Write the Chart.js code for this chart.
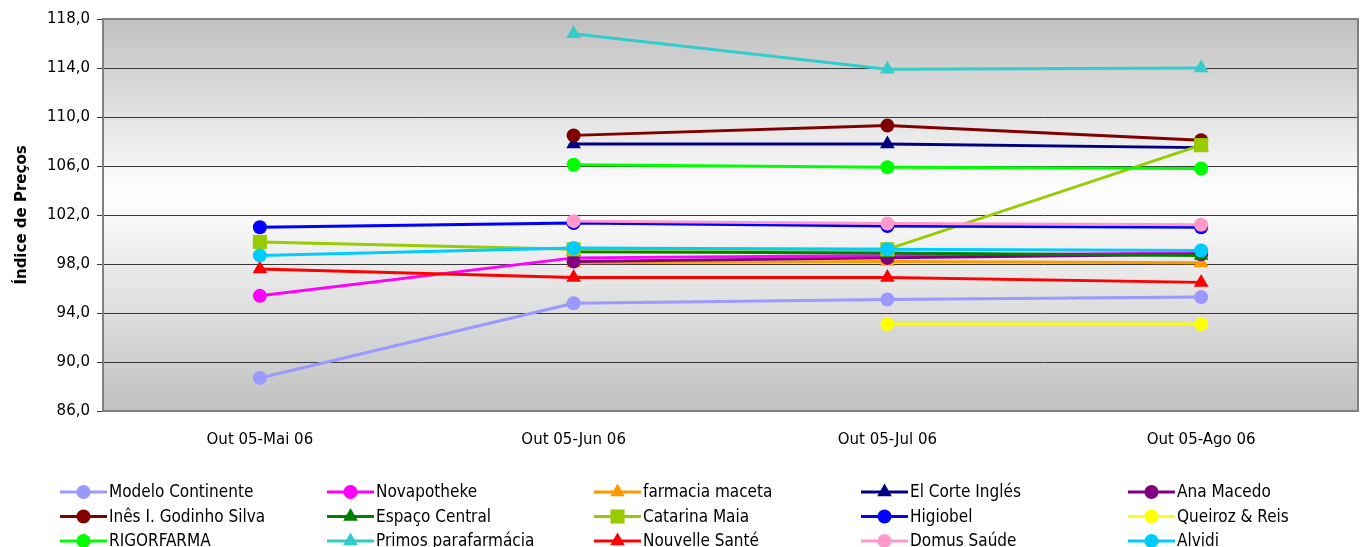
<!DOCTYPE html>
<html>
<head>
<meta charset="utf-8">
<script src="https://cdn.jsdelivr.net/npm/chart.js@4.4.1/dist/chart.umd.min.js"></script>
<style>
  html, body { margin: 0; padding: 0; background: #ffffff; overflow: hidden; }
  #wrap { width: 1363px; height: 547px; position: relative; overflow: hidden; }
  #c { display: block; }
</style>
</head>
<body>
<div id="wrap"><canvas id="c" width="1368" height="547"></canvas></div>
<script>
// ---- data ----
const categories = ['Out 05-Mai 06', 'Out 05-Jun 06', 'Out 05-Jul 06', 'Out 05-Ago 06'];
const seriesNames = ['Modelo Continente', 'Novapotheke', 'farmacia maceta', 'El Corte Inglés', 'Ana Macedo',
  'Inês I. Godinho Silva', 'Espaço Central', 'Catarina Maia', 'Higiobel', 'Queiroz & Reis',
  'RIGORFARMA', 'Primos parafarmácia', 'Nouvelle Santé', 'Domus Saúde', 'Alvidi'];
const modeloContinente   = [88.7, 94.8, 95.1, 95.3];
const novapotheke        = [95.4, 98.5, 98.7, 98.9];
const farmaciaMaceta     = [null, 98.1, 98.2, 98.1];
const elCorteIngles      = [null, 107.8, 107.8, 107.5];
const anaMacedo          = [null, 98.2, 98.5, 98.8];
const inesGodinhoSilva   = [null, 108.5, 109.3, 108.1];
const espacoCentral      = [null, 99.0, 98.9, 98.7];
const catarinaMaia       = [99.8, 99.2, 99.2, 107.7];
const higiobel           = [101.0, 101.35, 101.1, 101.0];
const queirozReis        = [null, null, 93.1, 93.1];
const rigorfarma         = [null, 106.1, 105.9, 105.8];
const primosParafarmacia = [null, 116.8, 113.9, 114.0];
const nouvelleSante      = [97.6, 96.9, 96.9, 96.5];
const domusSaude         = [null, 101.5, 101.3, 101.2];
const alvidi             = [98.7, 99.3, 99.2, 99.1];
const yMin = 86, yMax = 118, yStep = 4;

// ---- styles ----
const seriesValues = [modeloContinente, novapotheke, farmaciaMaceta, elCorteIngles, anaMacedo,
  inesGodinhoSilva, espacoCentral, catarinaMaia, higiobel, queirozReis,
  rigorfarma, primosParafarmacia, nouvelleSante, domusSaude, alvidi];
const colors = ['#9999FF', '#FF00FF', '#FF9900', '#000080', '#800080',
  '#800000', '#008000', '#99CC00', '#0000FF', '#FFFF00',
  '#00FF00', '#33CCCC', '#FF0000', '#FF99CC', '#00CCFF'];
const styles = ['circle', 'circle', 'triangle', 'triangle', 'circle',
  'circle', 'triangle', 'rect', 'circle', 'circle',
  'circle', 'triangle', 'triangle', 'circle', 'circle'];
const radiusFor = s => s === 'circle' ? 7 : (s === 'triangle' ? 8.5 : 10);

const datasets = seriesNames.map((name, i) => ({
  label: name,
  data: seriesValues[i],
  borderColor: colors[i],
  backgroundColor: colors[i],
  pointBackgroundColor: colors[i],
  pointBorderColor: colors[i],
  pointBorderWidth: 0,
  pointStyle: styles[i],
  pointRadius: radiusFor(styles[i]),
  pointHoverRadius: radiusFor(styles[i]),
  borderWidth: 3,
  tension: 0,
  spanGaps: false,
  fill: false,
  order: seriesNames.length - i
}));

const bgPlugin = {
  id: 'plotBg',
  beforeDraw(chart) {
    const { ctx, chartArea: a } = chart;
    const g = ctx.createLinearGradient(0, a.top, 0, a.bottom);
    g.addColorStop(0, '#C0C0C0');
    g.addColorStop(0.45, '#FFFFFF');
    g.addColorStop(1, '#C0C0C0');
    ctx.save();
    ctx.fillStyle = g;
    ctx.fillRect(a.left, a.top, a.right - a.left, a.bottom - a.top);
    ctx.restore();
  },
  afterDatasetsDraw(chart) {
    const { ctx, chartArea: a } = chart;
    ctx.save();
    ctx.strokeStyle = '#808080';
    ctx.lineWidth = 2;
    ctx.strokeRect(a.left, a.top, a.right - a.left, a.bottom - a.top);
    ctx.restore();
  }
};

const legendPlugin = {
  id: 'gridLegend',
  afterDraw(chart) {
    const ctx = chart.ctx;
    ctx.save();
    chart.data.datasets.forEach((ds, i) => {
      const col = i % 5, row = Math.floor(i / 5);
      const x0 = 60 + col * 267;
      const y = 492 + row * 24.5;
      ctx.strokeStyle = ds.borderColor;
      ctx.lineWidth = 3;
      ctx.beginPath();
      ctx.moveTo(x0, y);
      ctx.lineTo(x0 + 47, y);
      ctx.stroke();
      ctx.fillStyle = ds.backgroundColor;
      ctx.strokeStyle = ds.borderColor;
      Chart.helpers.drawPoint(ctx, {
        pointStyle: ds.pointStyle, radius: ds.pointRadius, borderWidth: 0, rotation: 0
      }, x0 + 23.5, y);
      ctx.fillStyle = '#000000';
      ctx.font = "17px 'DejaVu Sans Condensed', 'Liberation Sans Narrow', 'DejaVu Sans', sans-serif";
      ctx.textBaseline = 'middle';
      ctx.textAlign = 'left';
      ctx.fillText(ds.label, x0 + 49, y + 1);
    });
    ctx.restore();
  }
};

new Chart(document.getElementById('c'), {
  type: 'line',
  data: { labels: categories, datasets },
  plugins: [bgPlugin, legendPlugin],
  options: {
    responsive: false,
    animation: false,
    devicePixelRatio: 1,
    layout: { padding: { left: 0, right: 0, top: 19, bottom: 0 } },
    plugins: { legend: { display: false }, tooltip: { enabled: false } },
    elements: { line: { borderCapStyle: 'butt' } },
    scales: {
      x: {
        type: 'category',
        offset: true,
        grid: { display: false, drawTicks: false },
        border: { display: true, color: '#808080', width: 2 },
        ticks: { color: '#000', padding: 20, font: { family: "'DejaVu Sans', sans-serif", size: 15 } },
        afterFit(scale) { scale.height = 136; scale.paddingRight = 0; scale.paddingLeft = 0; }
      },
      y: {
        min: yMin, max: yMax,
        grid: { color: '#383838', lineWidth: 1, tickLength: 6, tickColor: '#383838' },
        border: { display: true, color: '#606060', width: 2 },
        ticks: {
          stepSize: yStep, color: '#000', padding: 7,
          font: { family: "'DejaVu Sans', sans-serif", size: 15 },
          callback: v => v.toFixed(1).replace('.', ',')
        },
        title: {
          display: true, text: 'Índice de Preços', color: '#000',
          font: { family: "'DejaVu Sans', sans-serif", size: 15, weight: 'bold' },
          padding: { top: 13, bottom: 0 }
        },
        afterFit(scale) { scale.width = 103; }
      }
    }
  }
});
</script>
</body>
</html>
